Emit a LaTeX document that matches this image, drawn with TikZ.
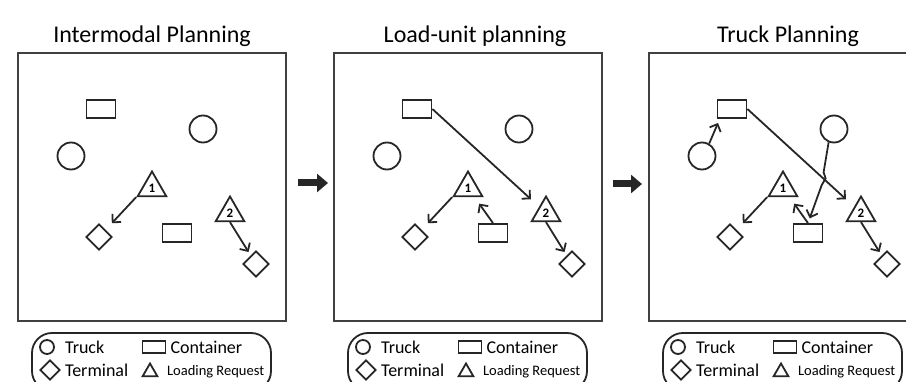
\documentclass[tikz,border=0pt]{standalone}
\usepackage{fontspec}
\setmainfont{Carlito}
\usetikzlibrary{arrows.meta,shapes.geometric,positioning}

\tikzset{
  ink/.style={draw=black!85,line width=1.8pt},
  frame/.style={draw=black!75,line width=2pt,minimum width=268pt,minimum height=268pt,inner sep=0pt},
  truck/.style={ink,circle,minimum size=27pt,inner sep=0pt},
  cont/.style={ink,rectangle,minimum width=29pt,minimum height=18pt,inner sep=0pt},
  term/.style={ink,diamond,minimum size=26pt,inner sep=0pt},
  req/.style={ink,regular polygon,regular polygon sides=3,minimum size=33pt,inner sep=0pt,font=\bfseries\fontsize{13}{13}\selectfont},
  flow/.style={ink,-{Straight Barb[length=6pt,width=12pt]}},
  bigarrow/.style={draw=black!85,line width=7pt,-{Triangle[length=11pt,width=18pt]}},
  keytext/.style={inner sep=0pt,font=\fontsize{18}{18}\selectfont},
}

\begin{document}
\begin{tikzpicture}[x=1pt,y=-1pt]
  \useasboundingbox (0,0) rectangle (906,382);
  \foreach \p/\dx/\tx/\name in {1/0/0/Intermodal Planning,2/316/7/Load-unit planning,3/631/5/Truck Planning}
  {
    \begin{scope}[xshift=\dx]
      \node[frame] (box\p) at (152,187) {};
      \node[font=\fontsize{24}{26}\selectfont] (title\p) at (152+\tx,36) {\name};
      % trucks, containers, terminals and requests
      \node[cont] (contA\p) at (101,109) {};
      \node[truck] (circR\p) at (203,129) {};
      \node[truck] (circL\p) at (71,156) {};
      \node[req] (reqA\p) at (152,188) {1};
      \node[term] (termA\p) at (99,237) {};
      \node[cont] (contB\p) at (177,233) {};
      \node[req] (reqB\p) at (230,213) {2};
      \node[term] (termB\p) at (256,264) {};
      \draw[flow,shorten >=9pt] (reqA\p.corner 2) -- (termA\p);
      \draw[flow,shorten >=4pt] (reqB\p.side 2) -- (termB\p);
      % legend
      \node[ink,rounded corners=20pt,minimum width=239pt,minimum height=58pt] (key\p) at (151.5,362) {};
      \node[truck,minimum size=14pt] (kTruck\p) at (47,347) {};
      \node[keytext,right=10pt of kTruck\p] (lTruck\p) {Truck};
      \node[cont,minimum width=23pt,minimum height=12pt] (kCont\p) at (154,347) {};
      \node[keytext,right=4pt of kCont\p] (lCont\p) {Container};
      \node[term,minimum size=20pt] (kTerm\p) at (50,370) {};
      \node[keytext,right=4pt of kTerm\p] (lTerm\p) {Terminal};
      \node[req,minimum size=17pt] (kReq\p) at (150,372) {};
      \node[keytext,font=\fontsize{14.5}{15}\selectfont,right=11pt of kReq\p.east] (lReq\p) {Loading Request};
    \end{scope}
  }
  % load units and trucks assigned
  \foreach \p in {2,3}
  {
    \draw[flow,shorten >=11pt] (contA\p.east) -- (reqB\p);
    \draw[flow,shorten >=8pt] (contB\p.north) -- (reqA\p);
  }
  \coordinate (tHead) at (718,123);
  \draw[flow] (circL3.60) -- (tHead);
  \draw[flow,shorten >=5pt] (circR3.-112) -- ++(-5,30) -- ++(2,6) -- ++(-4,7) -- (contB3.north);
  % steps
  \draw[bigarrow,shorten <=11pt,shorten >=5pt] ([yshift=4pt]box1.east) -- ([yshift=4pt]box2.west);
  \draw[bigarrow,shorten <=10pt,shorten >=6pt] ([yshift=3pt]box2.east) -- ([yshift=3pt]box3.west);
\end{tikzpicture}
\end{document}
